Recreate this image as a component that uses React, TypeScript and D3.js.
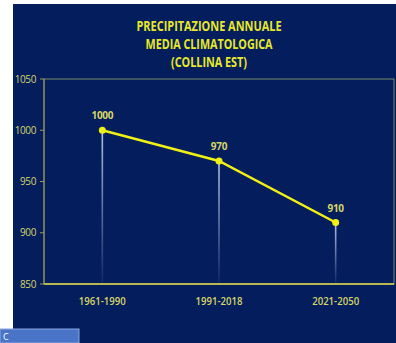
import * as d3 from 'd3';

const categories = ['1961-1990', '1991-2018', '2021-2050'];
const values = [1000, 970, 910];
const yTicks = [850, 900, 950, 1000, 1050];
const titleLines = ['PRECIPITAZIONE ANNUALE', 'MEDIA CLIMATOLOGICA', '(COLLINA EST)'];
const titleWidths = [145, 127, 76];

const W = 396;
const H = 343;
const margin = { top: 79, right: 2, bottom: 59, left: 44 };

export default function App() {
  const x = d3.scaleBand<string>()
    .domain(categories)
    .range([margin.left, W - margin.right]);
  const y = d3.scaleLinear()
    .domain([850, 1050])
    .range([H - margin.bottom, margin.top]);

  const cx = (c: string) => (x(c) || 0) + x.bandwidth() / 2;
  const line = d3.line<number>()
    .x((_, i) => cx(categories[i]))
    .y(d => y(d));

  const yellow = '#f0f014';
  const titleColor = '#e8e82a';
  const labelColor = '#d6d668';
  const font = '"Open Sans", "DejaVu Sans", sans-serif';

  return (
    <svg width={W} height={H} style={{ position: 'absolute', left: 0, top: 0, display: 'block' }}>
      <defs>
        <linearGradient id="drop" x1="0" y1="0" x2="0" y2="1">
          <stop offset="0%" stopColor="#c8d4f0" stopOpacity={0.9} />
          <stop offset="100%" stopColor="#c8d4f0" stopOpacity={0.05} />
        </linearGradient>
      </defs>
      <rect x={0} y={0} width={W} height={H} fill="#ffffff" />
      <rect x={13} y={4} width={W - 13} height={H - 4} fill="#041d5c" />

      {titleLines.map((t, i) => (
        <text key={t} x={209} y={30.5 + i * 18} textAnchor="middle" fill={titleColor}
          fontFamily={font} fontWeight="bold" fontSize={14.5}
          textLength={titleWidths[i]} lengthAdjust="spacingAndGlyphs">{t}</text>
      ))}

      {/* plot border */}
      <rect x={margin.left} y={margin.top} width={W - margin.left - margin.right}
        height={H - margin.top - margin.bottom} fill="none" stroke="#7d8a6a" strokeWidth={1} />
      <line x1={margin.left} x2={W - margin.right} y1={y(850)} y2={y(850)} stroke="#b8b850" strokeWidth={2} />
      <line x1={margin.left} x2={margin.left} y1={margin.top} y2={y(850)} stroke="#9a9a55" strokeWidth={1} />

      {yTicks.map(t => (
        <g key={t}>
          <line x1={margin.left - 4} x2={margin.left} y1={y(t)} y2={y(t)} stroke="#9a9a55" />
          <text x={36} y={y(t)} dy="0.35em" textAnchor="end" fill={labelColor}
            fontFamily={font} fontSize={10} letterSpacing={-0.4}>{t}</text>
        </g>
      ))}

      {categories.map(c => (
        <text key={c} x={cx(c)} y={y(850) + 17} dy="0.35em" textAnchor="middle" fill={labelColor}
          fontFamily={font} fontWeight={600} fontSize={10.5}
          textLength={47} lengthAdjust="spacingAndGlyphs">{c}</text>
      ))}

      {values.map((v, i) => (
        <rect key={'d' + i} x={cx(categories[i]) - 0.8} y={y(v)} width={1.6}
          height={y(850) - y(v)} fill="url(#drop)" />
      ))}

      <path d={line(values) || ''} fill="none" stroke={yellow} strokeWidth={2.5} />

      {values.map((v, i) => (
        <g key={'p' + i}>
          <circle cx={cx(categories[i])} cy={y(v)} r={3.5} fill={yellow} />
          <text x={cx(categories[i])} y={y(v) - 11} textAnchor="middle" fill={labelColor}
            fontFamily={font} fontWeight="bold" fontSize={10}
            letterSpacing={-0.3}>{v}</text>
        </g>
      ))}

      <rect x={0} y={329} width={79} height={14} fill="#4a74c8" stroke="#8aa6dd" strokeWidth={1} />
      <text x={3} y={340} fill="#ffffff" fontFamily={font} fontSize={9}>C</text>
    </svg>
  );
}
